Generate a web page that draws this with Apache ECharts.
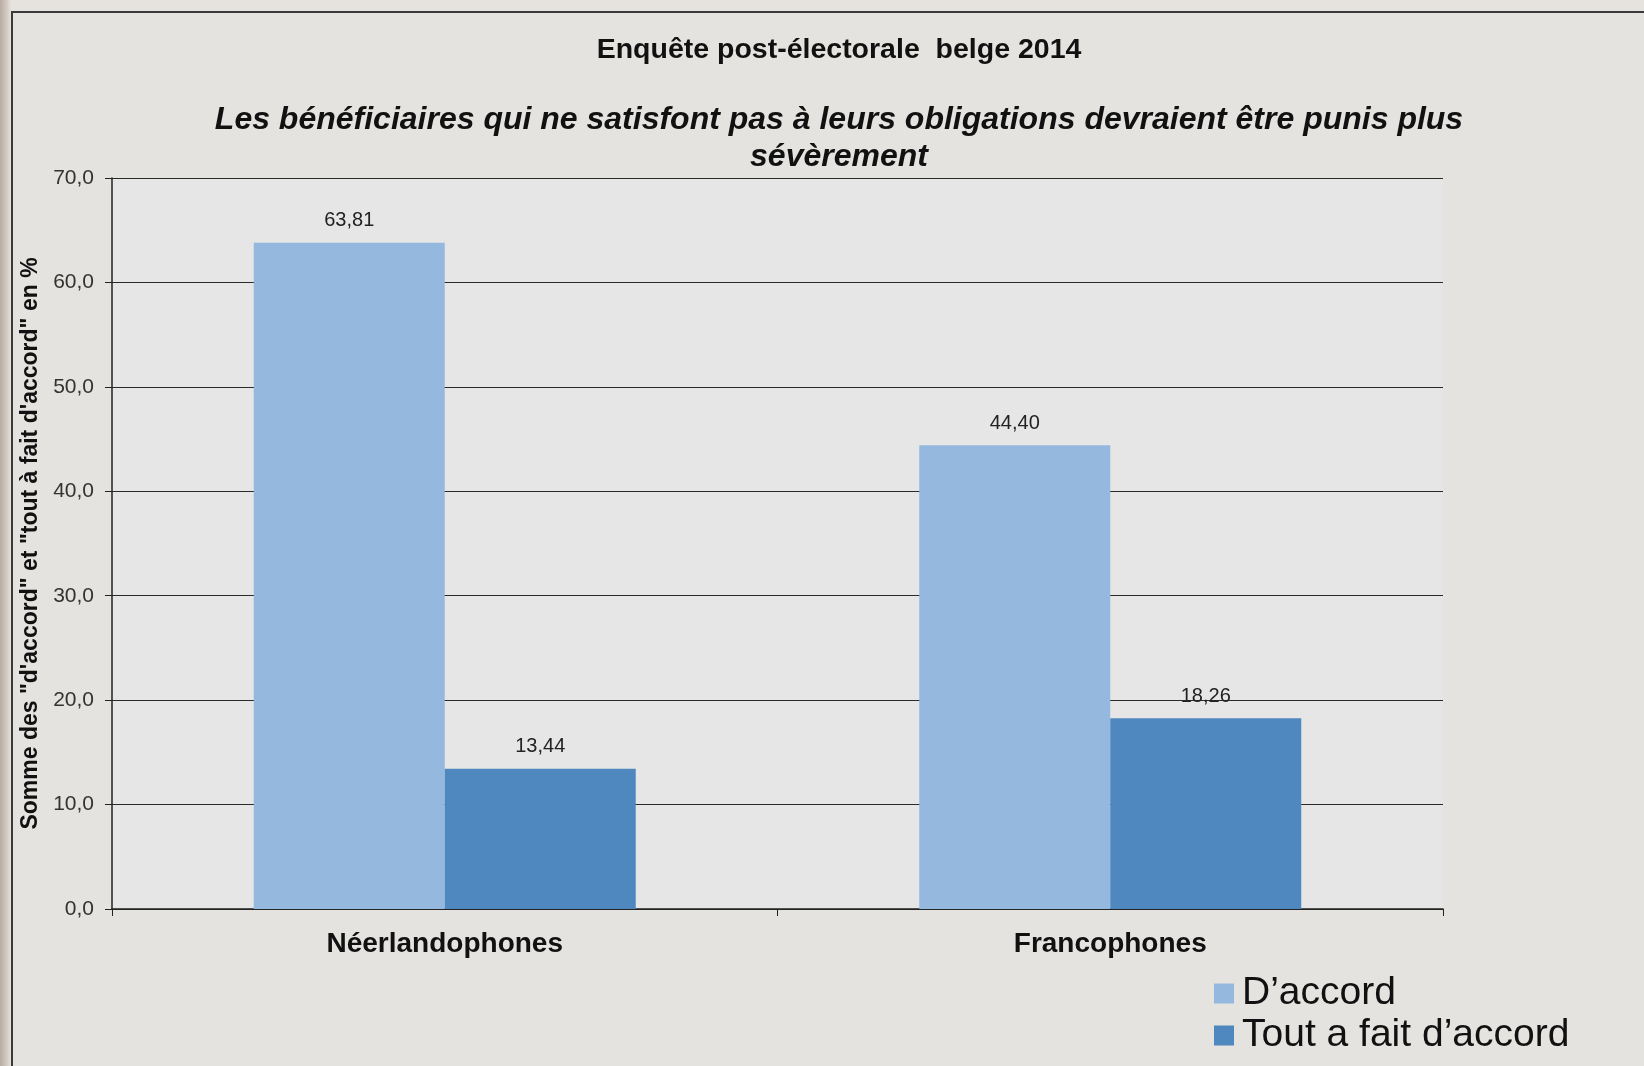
<!DOCTYPE html>
<html>
<head>
<meta charset="utf-8">
<script src="https://cdn.jsdelivr.net/npm/echarts@6/dist/echarts.min.js"></script>
<style>
html,body{margin:0;padding:0;width:1644px;height:1066px;overflow:hidden;}
body{background:linear-gradient(90deg,#b8aca2 0px,#cfc6be 6px,#e6e2de 11px);}
#frame{position:absolute;left:11px;top:11px;width:1640px;height:1060px;background:#e5e3e0;border-left:2px solid #3a3a3a;border-top:2px solid #3a3a3a;}
#chart{position:absolute;left:0;top:0;width:1644px;height:1066px;}
</style>
</head>
<body>
<div id="frame"></div>
<div id="chart"></div>
<script>
const categories = ['Néerlandophones', 'Francophones'];
const seriesNames = ['D\u2019accord', 'Tout a fait d\u2019accord'];
const dAccord = [63.81, 44.40];
const toutAFait = [13.44, 18.26];
const yTicks = {min: 0, max: 70, interval: 10};
const titleText = 'Enquête post-électorale  belge 2014';
const subtitleText = 'Les bénéficiaires qui ne satisfont pas à leurs obligations devraient être punis plus\nsévèrement';
const yAxisName = 'Somme des "d\'accord" et "tout à fait d\'accord" en %';

const chart = echarts.init(document.getElementById('chart'), null, {renderer: 'canvas'});
const fmt = v => v.toFixed(2).replace('.', ',');
const font = 'Liberation Sans, Arial, sans-serif';
chart.setOption({
  backgroundColor: 'transparent',
  animation: false,
  textStyle: {fontFamily: font},
  title: [
    {text: titleText, left: 834, top: 31, textAlign: 'center',
     textStyle: {fontFamily: font, fontSize: 28.5, fontWeight: 'bold', color: '#111'}},
    {text: subtitleText, left: 834, top: 97, textAlign: 'center',
     textStyle: {fontFamily: font, fontSize: 32, fontWeight: 'bold', fontStyle: 'italic', color: '#111', lineHeight: 37}}
  ],
  legend: {
    orient: 'vertical', left: 1209, top: 969,
    itemWidth: 20, itemHeight: 20, itemGap: 3,
    icon: 'rect',
    textStyle: {fontFamily: font, fontSize: 39, color: '#111', padding: [0, 0, 0, 3]},
    data: seriesNames
  },
  grid: {left: 112, right: 201, top: 178, bottom: 1066 - 909, show: true,
         backgroundColor: '#e6e6e6', borderWidth: 0, containLabel: false},
  xAxis: {
    type: 'category', data: categories,
    axisLine: {lineStyle: {color: '#222', width: 1.5}},
    axisTick: {show: true, length: 7, lineStyle: {color: '#222'}},
    axisLabel: {fontFamily: font, fontSize: 28, fontWeight: 'bold', color: '#111', margin: 21}
  },
  yAxis: {
    type: 'value', min: yTicks.min, max: yTicks.max, interval: yTicks.interval,
    name: yAxisName, nameLocation: 'middle', nameRotate: 90, nameGap: 64,
    nameTextStyle: {fontFamily: font, fontSize: 23, fontWeight: 'bold', color: '#111'},
    axisLine: {show: true, lineStyle: {color: '#222', width: 1.5}},
    axisTick: {show: true, length: 7, lineStyle: {color: '#222'}},
    axisLabel: {fontFamily: font, fontSize: 21, color: '#333', margin: 18,
                formatter: v => v.toFixed(1).replace('.', ',')},
    splitLine: {show: true, lineStyle: {color: '#2a2a2a', width: 1.2}}
  },
  series: [
    {name: seriesNames[0], type: 'bar', data: dAccord, barGap: '0%', barCategoryGap: '42.6%',
     itemStyle: {color: '#95b8de'},
     label: {show: true, position: 'top', distance: 12, fontFamily: font, fontSize: 20, color: '#222', formatter: p => fmt(p.value)}},
    {name: seriesNames[1], type: 'bar', data: toutAFait, barGap: '0%', barCategoryGap: '42.6%',
     itemStyle: {color: '#4f88bf'},
     label: {show: true, position: 'top', distance: 12, fontFamily: font, fontSize: 20, color: '#222', formatter: p => fmt(p.value)}}
  ]
});
</script>
</body>
</html>
